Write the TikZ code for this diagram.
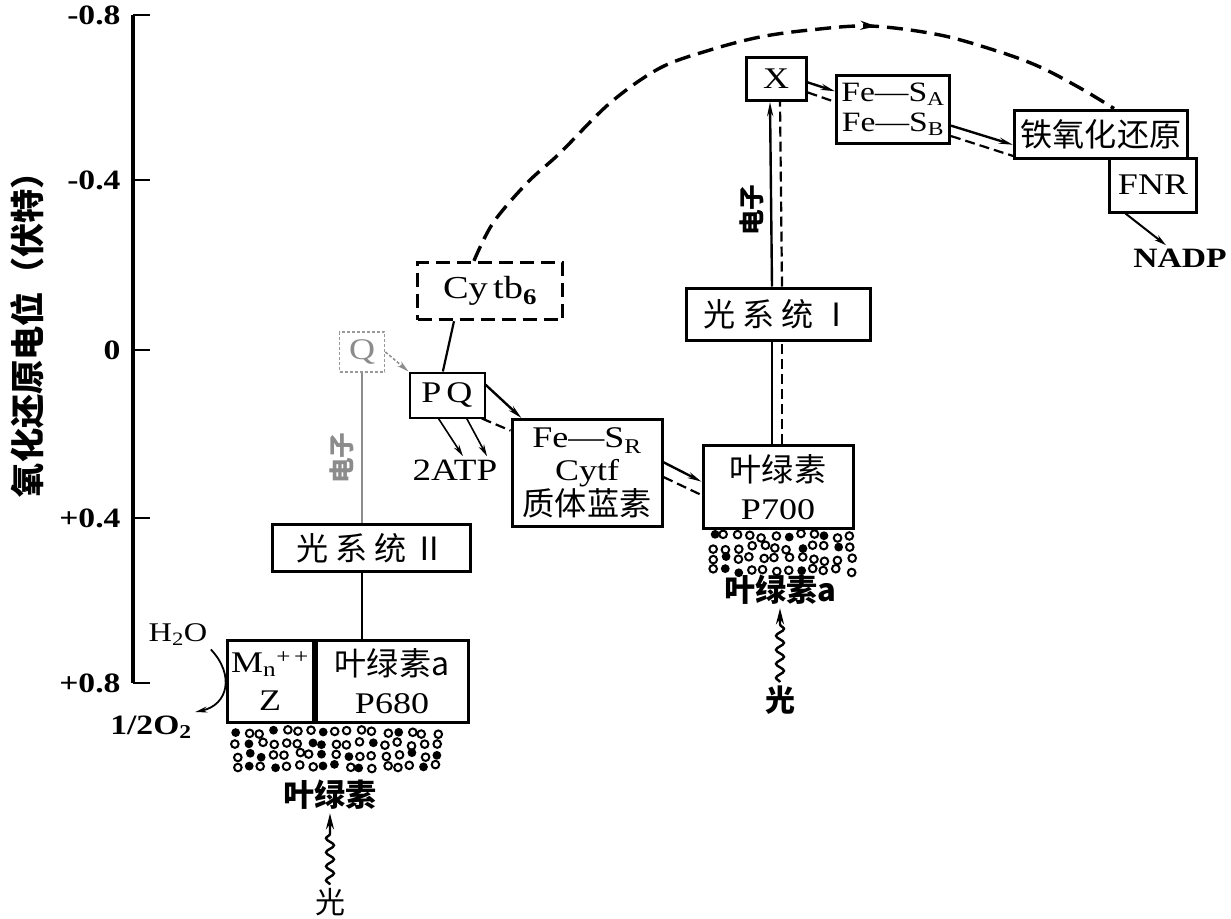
\documentclass[tikz,border=0pt]{standalone}
\usepackage{fontspec}
\setmainfont{Liberation Serif}[FakeStretch=1.2]
\newfontfamily\cjk{Noto Sans CJK SC}[Scale=1.07]
\newcommand\gap{\hspace{7pt}}
\usetikzlibrary{arrows.meta,positioning,calc,decorations.pathmorphing,decorations.markings}
\tikzset{
  carrier/.style ={draw,line width=3pt,fill=white,align=center,inner sep=0pt,font=\fontsize{30}{38}\selectfont},
  dashbox/.style ={carrier,dash pattern=on 14pt off 7pt,line width=3.4pt},
  faintbox/.style={carrier,draw=black!40,text=black!45,line width=1.8pt,densely dashed},
  cjklbl/.style  ={font=\cjk\bfseries\fontsize{#1}{#1}\selectfont},
  cjklbl/.default=28,
  axlbl/.style   ={anchor=east,font=\bfseries\fontsize{28}{30}\selectfont},
  arrow/.style   ={-{Stealth[length=12pt,width=6pt]},line width=2pt},
  eflow/.style   ={-{Stealth[length=14pt,width=6pt]},line width=2.4pt},
  cflow/.style   ={line width=2.2pt,dash pattern=on 10pt off 5pt},
  wavy/.style    ={-{Stealth[length=16pt,width=8pt]},line width=2.4pt,decorate,
                   decoration={snake,amplitude=4pt,segment length=14pt,post length=16pt}},
  dotring/.style ={line width=2pt},
  cyclic/.style  ={line width=3.4pt,dash pattern=on 16pt off 8pt}
}

\begin{document}
\begin{tikzpicture}[x=1pt,y=-1pt]
    \useasboundingbox (0,0) rectangle (1231,918);

    % potential axis
    \draw[line width=3.8pt] (133,15) -- (133,683);
    \foreach \yy/\val in {15/-0.8, 180/-0.4, 350/0, 518/+0.4, 683/+0.8}{
      \draw[line width=2.6pt] (133,\yy) -- (150,\yy);
      \node[axlbl] (ax\yy) at (124,\yy) {\val};
    }
    \node[cjklbl=32,rotate=90] (ytitle) at (27,326) {氧化还原电位（伏特）};

    % photosystem II side
    \node[carrier,minimum width=86pt,minimum height=82pt] (mnz) at (270,681) {M\textsubscript{n}\textsuperscript{+\,+}\\Z};
    \node[carrier,minimum width=152pt,minimum height=82pt,right=0pt of mnz] (p680) {{\cjk 叶绿素a}\\P680};
    \node[carrier,minimum width=198pt,minimum height=47pt] (psii) at (371,548) {\cjk 光\gap 系\gap 统\gap Ⅱ};
    \node[faintbox,minimum width=45pt,minimum height=40pt] (q) at (362,352) {Q};
    \node[carrier,minimum width=75pt,minimum height=45pt,line width=2pt] (pq) at (447,395) {P\,Q};
    \node[dashbox,minimum width=145pt,minimum height=57pt,font=\fontsize{32}{36}\selectfont] (cytb) at (490,291) {Cy\,tb\textsubscript{\bfseries 6}};
    \node[carrier,minimum width=150pt,minimum height=107pt,font=\fontsize{30}{33}\selectfont] (fesr) at (587,473) {Fe—S\textsubscript{R}\\Cytf\\{\cjk 质体蓝素}};

    % photosystem I side
    \node[carrier,minimum width=150pt,minimum height=83pt] (p700) at (778,487) {{\cjk 叶绿素}\\P700};
    \node[carrier,minimum width=184pt,minimum height=52pt] (psi) at (778,314) {\cjk 光\gap 系\gap 统\gap Ⅰ};
    \node[carrier,minimum width=60pt,minimum height=43pt] (xbox) at (776,79) {X};
    \node[carrier,minimum width=113pt,minimum height=68pt,font=\fontsize{28}{30}\selectfont] (fesab) at (893,109) {Fe—S\textsubscript{A}\\Fe—S\textsubscript{B}};
    \node[carrier,minimum width=173pt,minimum height=48pt] (fd) at (1101,134) {\cjk 铁氧化还原};
    \node[carrier,minimum width=87pt,minimum height=54pt] (fnr) at (1153,185) {FNR};

    % free labels
    \node[cjklbl=29] (chl2) at (330,795) {叶绿素};
    \node[font=\cjk\fontsize{28}{30}\selectfont] (light2) at (330,902) {光};
    \node[cjklbl=29] (chl1) at (780,590) {叶绿素a};
    \node[cjklbl] (light1) at (780,700) {光};
    \node[font=\fontsize{31}{33}\selectfont] (atp) at (455,470) {2ATP};
    \node[font=\fontsize{27}{29}\selectfont] (h2o) at (178,635) {H\textsubscript{2}O};
    \node[font=\bfseries\fontsize{28}{30}\selectfont] (o2) at (151,727) {1/2O\textsubscript{2}};
    \node[cjklbl=24,rotate=90,text=black!45] (e2) at (342,458) {电子};
    \node[cjklbl=24,rotate=90] (e1) at (752,210) {电子};
    \node[font=\bfseries\fontsize{28}{30}\selectfont] (nadp) at (1180,258) {NADP};

    % chlorophyll dots
    \pgfmathsetseed{7}
    \foreach \i in {0,...,16}{\foreach \j in {0,...,3}{
      \pgfmathsetmacro\dx{2.5*rand}\pgfmathsetmacro\dy{2.5*rand}
      \pgfmathtruncatemacro\fl{rnd<0.3 ? 1 : 0}
      \ifnum\fl=1 \fill ({236+\i*12.5+\dx},{732+\j*11.5+\dy}) circle (4.4);
      \else \draw[dotring] ({236+\i*12.5+\dx},{732+\j*11.5+\dy}) circle (3.8); \fi}}
    \foreach \i in {0,...,11}{\foreach \j in {0,...,3}{
      \pgfmathsetmacro\dx{2.5*rand}\pgfmathsetmacro\dy{2.5*rand}
      \pgfmathtruncatemacro\fl{rnd<0.3 ? 1 : 0}
      \ifnum\fl=1 \fill ({713+\i*12.5+\dx},{536+\j*11.5+\dy}) circle (4.4);
      \else \draw[dotring] ({713+\i*12.5+\dx},{536+\j*11.5+\dy}) circle (3.8); \fi}}

    % connectors
    \draw[line width=2pt] (p680.north -| q) -- (psii.south -| q);
    \draw[black!45,line width=1.8pt] (psii.north -| q) -- (q.south);
    \draw[arrow,black!45,line width=1.5pt,densely dashed] (q.east) -- (pq.north west);
    \draw[line width=2.2pt] (cytb.220) -- (pq.100);
    \draw[arrow,line width=1.6pt] (pq.-110) -- ([xshift=8pt]atp.north);
    \draw[arrow,line width=1.6pt] (pq.-50) -- ([xshift=32pt]atp.north);
    \draw[eflow] (pq.15) -- (fesr.140);
    \draw[cflow] (pq.-34) -- (fesr.151);
    \draw[eflow] (fesr.8) -- (p700.176);
    \draw[cflow] (fesr.-3) -- (p700.186);
    \draw[line width=2.4pt] ([xshift=-6pt]p700.north) -- ([xshift=-6pt]psi.south);
    \draw[cflow] ([xshift=4pt]p700.north) -- ([xshift=4pt]psi.south);
    \draw[eflow] ([xshift=-6pt]psi.north) -- ([xshift=-6pt]xbox.south);
    \draw[cflow] ([xshift=4pt]psi.north) -- ([xshift=4pt]xbox.south);
    \draw[eflow] (xbox.-6) -- (fesab.163);
    \draw[cflow] (xbox.-23) -- (fesab.173);
    \draw[eflow] (fesab.-16) -- (fd.187);
    \draw[cflow] (fesab.-25) -- (fd.194);
    \draw[arrow] (fnr.-134) -- ([xshift=-14pt]nadp.north);
    \draw[arrow,line width=1.8pt] (h2o.south east) .. controls (235,675) and (228,705) .. (o2.north east);
    \draw[wavy] (light2.north) -- (chl2.south);
    \draw[wavy] (light1.north) -- (chl1.south);
    \draw[cyclic,postaction={decorate},decoration={markings,mark=at position 0.66 with {\arrow{Stealth[length=16pt,width=9pt]}}}]
      plot[smooth,tension=0.55] coordinates {(cytb.118) (493,223) (527,183) (560,153) (610,103) (660,68) (710,50) (760,37) (810,30) (870,26) (940,35) (1000,52) (1040,67) (1080,88) (fd.63)};
  \end{tikzpicture}
\end{document}
